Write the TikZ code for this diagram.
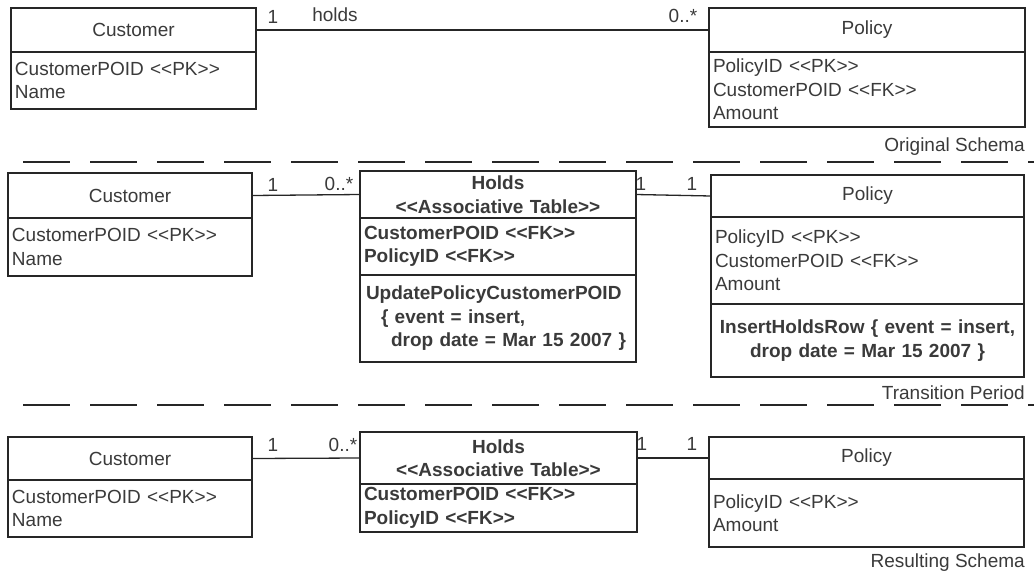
\documentclass[tikz,border=0pt]{standalone}
\usepackage{fontspec}
\setmainfont{Liberation Sans}
\usetikzlibrary{positioning}

\definecolor{txt}{HTML}{3A3A3A}
\definecolor{ln}{HTML}{262626}
\newcommand{\umlfont}{\fontsize{19}{23.5}\selectfont}
\newcommand{\stereo}[1]{<\kern0pt<#1>\kern0pt>}

\begin{document}
\begin{tikzpicture}[
    x=1pt, y=-1pt,
    every node/.style={font=\umlfont, text=txt},
    comp/.style={draw=ln, line width=1.3pt, outer sep=0pt, inner xsep=4pt, inner ysep=0pt},
    hdr/.style={comp, align=center, anchor=north west},
    att/.style={comp, align=left},
    ops/.style={comp, font=\umlfont\bfseries},
    assoc/.style={draw=ln, line width=1.3pt},
    mult/.style={inner sep=0pt},
    sep/.style={draw=ln, line width=2.2pt, dash pattern=on 47pt off 20pt},
    schema/.style={inner sep=0pt, anchor=east},
]
\useasboundingbox (0,0) rectangle (1034,573);

% === Original schema ===
\node[hdr, minimum width=245pt, text width=237pt, minimum height=44pt] (cust0h) at (11,8) {Customer};
\node[att, minimum width=245pt, text width=237pt, minimum height=57pt, below=0pt of cust0h] (cust0a)
    {CustomerPOID \stereo{PK}\\Name};

\node[hdr, minimum width=316pt, text width=308pt, minimum height=44pt] (pol0h) at (709,8) {Policy};
\node[att, minimum width=316pt, text width=308pt, minimum height=75pt, below=0pt of pol0h] (pol0a)
    {PolicyID \stereo{PK}\\CustomerPOID \stereo{FK}\\Amount};

\draw[assoc] (cust0h.east) -- (pol0h.west);
\node[mult] (m0l) at (273,17) {1};
\node[mult] (m0n) at (335,15) {holds};
\node[mult] (m0r) at (683,16) {0..*};

\node[schema] (orig) at (1025,147) {Original Schema};
\draw[sep] (23,162) -- (1034,162);

% === Transition period ===
\node[hdr, minimum width=244pt, text width=236pt, minimum height=45pt] (cust1h) at (8,173) {Customer};
\node[att, minimum width=244pt, text width=236pt, minimum height=58pt, below=0pt of cust1h] (cust1a)
    {CustomerPOID \stereo{PK}\\Name};

\node[hdr, font=\umlfont\bfseries, minimum width=276pt, text width=268pt, minimum height=47pt] (hold1h) at (360,171)
    {Holds\\\stereo{Associative Table}};
\node[att, font=\umlfont\bfseries, minimum width=276pt, text width=268pt, minimum height=57pt, below=0pt of hold1h] (hold1a)
    {CustomerPOID \stereo{FK}\\PolicyID \stereo{FK}};
\node[ops, align=left, inner xsep=6pt, minimum width=276pt, text width=264pt, minimum height=87pt, below=0pt of hold1a] (hold1o)
    {UpdatePolicyCustomerPOID\\\hspace*{15pt}\{ event = insert,\\\hspace*{25pt}drop date = Mar 15 2007 \}};

\node[hdr, minimum width=313pt, text width=305pt, minimum height=42pt] (pol1h) at (711,175) {Policy};
\node[att, minimum width=313pt, text width=305pt, minimum height=87pt, below=0pt of pol1h] (pol1a)
    {PolicyID \stereo{PK}\\CustomerPOID \stereo{FK}\\Amount};
\node[ops, align=center, minimum width=313pt, text width=305pt, minimum height=73pt, below=0pt of pol1a] (pol1o)
    {InsertHoldsRow \{ event = insert,\\drop date = Mar 15 2007 \}};

\draw[assoc] (cust1h.east) -- (hold1h.west);
\draw[assoc] (hold1h.east) -- (pol1h.west);
\node[mult] (m1a) at (273,185) {1};
\node[mult] (m1b) at (339,184) {0..*};
\node[mult] (m1c) at (641,184) {1};
\node[mult] (m1d) at (692,184) {1};

\node[schema] (trans) at (1025,393) {Transition Period};
\draw[sep] (23,405) -- (1034,405);

% === Resulting schema ===
\node[hdr, minimum width=244pt, text width=236pt, minimum height=43pt] (cust2h) at (8,437) {Customer};
\node[att, minimum width=244pt, text width=236pt, minimum height=57pt, below=0pt of cust2h] (cust2a)
    {CustomerPOID \stereo{PK}\\Name};

\node[hdr, font=\umlfont\bfseries, minimum width=277pt, text width=269pt, minimum height=52pt] (hold2h) at (360,432)
    {Holds\\\stereo{Associative Table}};
\node[att, font=\umlfont\bfseries, minimum width=277pt, text width=269pt, minimum height=48pt, below=0pt of hold2h] (hold2a)
    {CustomerPOID \stereo{FK}\\PolicyID \stereo{FK}};

\node[hdr, minimum width=315pt, text width=307pt, minimum height=42pt] (pol2h) at (709,437) {Policy};
\node[att, minimum width=315pt, text width=307pt, minimum height=68pt, below=0pt of pol2h] (pol2a)
    {PolicyID \stereo{PK}\\Amount};

\draw[assoc] (cust2h.east) -- (hold2h.west);
\draw[assoc] (hold2h.east) -- (pol2h.west);
\node[mult] (m2a) at (273,445) {1};
\node[mult] (m2b) at (343,445) {0..*};
\node[mult] (m2c) at (642,444) {1};
\node[mult] (m2d) at (692,444) {1};

\node[schema] (res) at (1025,563) {Resulting Schema};

\end{tikzpicture}
\end{document}
